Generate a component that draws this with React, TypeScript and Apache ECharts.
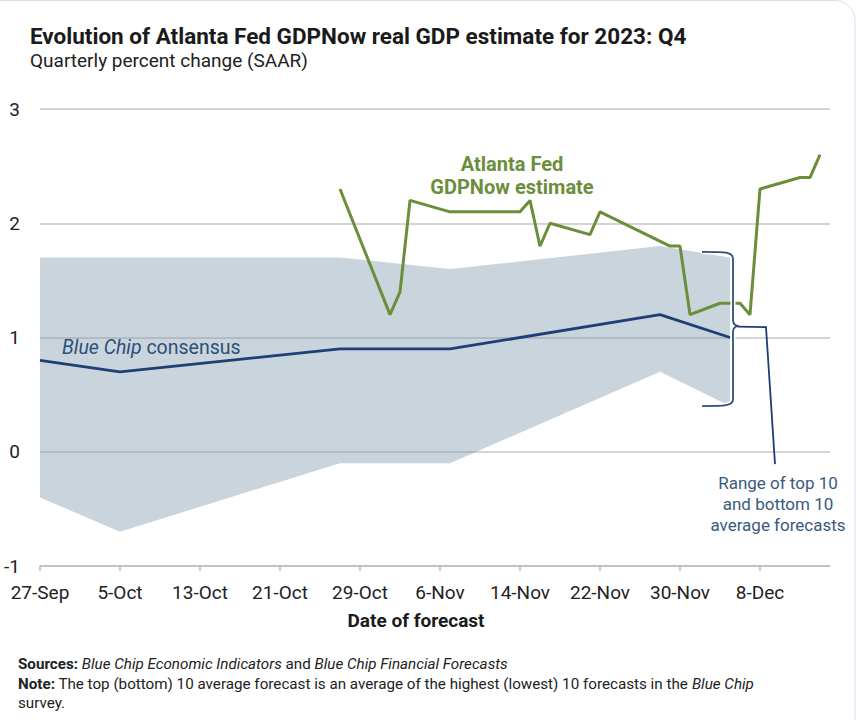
import React, { useEffect, useRef } from "react";
import * as echarts from "echarts";

// ---- data ----
const START = Date.UTC(2023, 8, 27);
const xTickLabels = ["27-Sep", "5-Oct", "13-Oct", "21-Oct", "29-Oct", "6-Nov", "14-Nov", "22-Nov", "30-Nov", "8-Dec"];
const yTicks = [-1, 0, 1, 2, 3];

const blueChipDates = ["2023-09-27", "2023-10-05", "2023-10-27", "2023-11-07", "2023-11-28", "2023-12-05"];
const consensus = [0.8, 0.7, 0.9, 0.9, 1.2, 1.0];
const top10 = [1.7, 1.7, 1.7, 1.6, 1.8, 1.7];
const bottom10 = [-0.4, -0.7, -0.1, -0.1, 0.7, 0.4];

const gdpNowDates = [
  "2023-10-27", "2023-11-01", "2023-11-02", "2023-11-03", "2023-11-07", "2023-11-14", "2023-11-15",
  "2023-11-16", "2023-11-17", "2023-11-21", "2023-11-22", "2023-11-29", "2023-11-30", "2023-12-01",
  "2023-12-04", "2023-12-06", "2023-12-07", "2023-12-08", "2023-12-12", "2023-12-13", "2023-12-14",
];
const gdpNow = [2.3, 1.2, 1.4, 2.2, 2.1, 2.1, 2.2, 1.8, 2.0, 1.9, 2.1, 1.8, 1.8, 1.2, 1.3, 1.3, 1.2, 2.3, 2.4, 2.4, 2.6];

function dayOf(s: string) {
  const [y, m, d] = s.split("-").map(Number);
  return (Date.UTC(y, m - 1, d) - START) / 86400000;
}

const GREEN = "#6b8e3a";
const NAVY = "#1e3f73";
const BRACE = "#2d5079";
const FONT = "Roboto, 'Noto Sans', sans-serif";

export default function App() {
  const ref = useRef<HTMLDivElement>(null);
  useEffect(() => {
    if (!ref.current) return;
    const chart = echarts.init(ref.current, null, { renderer: "svg" });
    const bcX = blueChipDates.map(dayOf);
    const option: any = {
      animation: false,
      backgroundColor: "#ffffff",
      grid: { left: 40, right: 26, top: 109, bottom: 154, containLabel: false },
      xAxis: {
        type: "value",
        min: 0,
        max: 79,
        interval: 8,
        axisLine: { show: true, onZero: false, lineStyle: { color: "#bdbdbd", width: 1.5 } },
        axisTick: { show: true, length: 5, lineStyle: { color: "#bdbdbd", width: 1.5 } },
        splitLine: { show: false },
        axisLabel: {
          margin: 17,
          color: "#222",
          fontSize: 19,
          fontFamily: FONT,
          showMaxLabel: false,
          formatter: (v: number) => xTickLabels[Math.round(v / 8)] ?? "",
        },
      },
      yAxis: {
        type: "value",
        min: yTicks[0],
        max: yTicks[yTicks.length - 1],
        interval: 1,
        axisLine: { show: false },
        axisTick: { show: false },
        splitLine: { show: true, lineStyle: { color: "#c6c6c6", width: 1.5 } },
        axisLabel: { margin: 20, color: "#222", fontSize: 19, fontFamily: FONT },
      },
      series: [
        {
          type: "custom",
          name: "range",
          silent: true,
          z: 1,
          data: bcX.map((x, i) => [x, top10[i], bottom10[i]]),
          encode: { x: 0, y: [1, 2] },
          renderItem: (params: any, api: any) => {
            if (params.dataIndex !== 0) return null;
            const upper = bcX.map((x, i) => api.coord([x, top10[i]]));
            const lower = bcX.map((x, i) => api.coord([x, bottom10[i]])).reverse();
            return {
              type: "polygon",
              shape: { points: upper.concat(lower) },
              style: { fill: "rgb(126,152,171)", opacity: 0.42 },
            };
          },
        },
        {
          type: "line",
          name: "Blue Chip consensus",
          data: bcX.map((x, i) => [x, consensus[i]]),
          symbol: "none",
          lineStyle: { color: NAVY, width: 2.8 },
          z: 3,
        },
        {
          type: "line",
          name: "GDPNow",
          data: gdpNowDates.map((d, i) => [dayOf(d), gdpNow[i]]),
          symbol: "none",
          lineStyle: { color: GREEN, width: 3 },
          z: 4,
        },
      ],
    };
    chart.setOption(option);

    // annotation positions derived from the axes
    const lastBC = bcX[bcX.length - 1];
    const xb = (chart.convertToPixel({ xAxisIndex: 0 }, lastBC) as number) + 3;
    const yTop = chart.convertToPixel({ yAxisIndex: 0 }, 1.75) as number;
    const yBot = chart.convertToPixel({ yAxisIndex: 0 }, 0.4) as number;
    const yMid = chart.convertToPixel({ yAxisIndex: 0 }, 1.1) as number;
    const w = 31;
    const h = yBot - yTop;
    const mid = yMid - yTop;
    const d = `M0 0 C${w - 8} 0 ${w} 0 ${w} 7 L${w} ${mid - 6} Q${w} ${mid} ${w + 6} ${mid} Q${w} ${mid} ${w} ${mid + 6} L${w} ${h - 7} C${w} ${h} ${w - 8} ${h} 0 ${h}`;
    echarts.graphic.registerShape("braceShape", echarts.graphic.extendPath(d, {}) as any);

    const txt = (x: number, y: number, text: string, font: string, fill: string, align = "left", extra: any = {}) => ({
      type: "text",
      x,
      y,
      silent: true,
      z: 50,
      style: { text, font, fill, align, textAlign: align, verticalAlign: "middle", textVerticalAlign: "middle", ...extra },
    });
    const FS = 15.2;
    const richFoot = {
      b: { fontWeight: "bold", fontSize: FS, fontFamily: FONT, fill: "#222" },
      i: { fontStyle: "italic", fontSize: FS, fontFamily: FONT, fill: "#222" },
    };

    chart.setOption({
      graphic: [
        {
          type: "rect",
          shape: { x: -20, y: 0.5, width: 875, height: 740, r: 20 },
          style: { fill: "none", stroke: "#d9dee4", lineWidth: 1 },
          silent: true,
          z: 0,
        },
        txt(30, 36, "Evolution of Atlanta Fed GDPNow real GDP estimate for 2023: Q4", `bold 22.5px ${FONT}`, "#1a1a1a"),
        txt(30, 60, "Quarterly percent change (SAAR)", `19px ${FONT}`, "#222"),
        txt(416, 620, "Date of forecast", `bold 19px ${FONT}`, "#1a1a1a", "center"),
        txt(512, 164, "Atlanta Fed", `bold 20px ${FONT}`, GREEN, "center"),
        txt(512, 187, "GDPNow estimate", `bold 20px ${FONT}`, GREEN, "center"),
        txt(62, 347, "{i|Blue Chip} consensus", `19.5px ${FONT}`, "#2b5079", "left", {
          rich: { i: { fontStyle: "italic", fontSize: 19.5, fontFamily: FONT, fill: "#2b5079" } },
        }),
        txt(778, 483, "Range of top 10", `17px ${FONT}`, "#3a5a7c", "center"),
        txt(778, 504, "and bottom 10", `17px ${FONT}`, "#3a5a7c", "center"),
        txt(778, 525, "average forecasts", `17px ${FONT}`, "#3a5a7c", "center"),
        txt(18, 664, "{b|Sources:} {i|Blue Chip Economic Indicators} and {i|Blue Chip Financial Forecasts}", `${FS}px ${FONT}`, "#222", "left", {
          rich: richFoot,
        }),
        txt(18, 684, "{b|Note:} The top (bottom) 10 average forecast is an average of the highest (lowest) 10 forecasts in the {i|Blue Chip}", `${FS}px ${FONT}`, "#222", "left", {
          rich: richFoot,
        }),
        txt(18, 703, "survey.", `${FS}px ${FONT}`, "#222"),
        {
          type: "braceShape",
          x: xb - w,
          y: yTop,
          silent: true,
          z: 40,
          style: { fill: "none", stroke: "#ffffff", lineWidth: 5 },
        },
        {
          type: "braceShape",
          x: xb - w,
          y: yTop,
          silent: true,
          z: 41,
          style: { fill: "none", stroke: BRACE, lineWidth: 1.8 },
        },
        {
          type: "polyline",
          silent: true,
          z: 41,
          shape: { points: [[xb + 5, yMid + 0.5], [xb + 33, yMid + 1], [xb + 42, yMid + 138]] },
          style: { fill: "none", stroke: NAVY, lineWidth: 1.8 },
        },
      ],
    });
    return () => chart.dispose();
  }, []);
  return <div ref={ref} style={{ position: "fixed", left: 0, top: 0, width: 856, height: 720 }} />;
}
